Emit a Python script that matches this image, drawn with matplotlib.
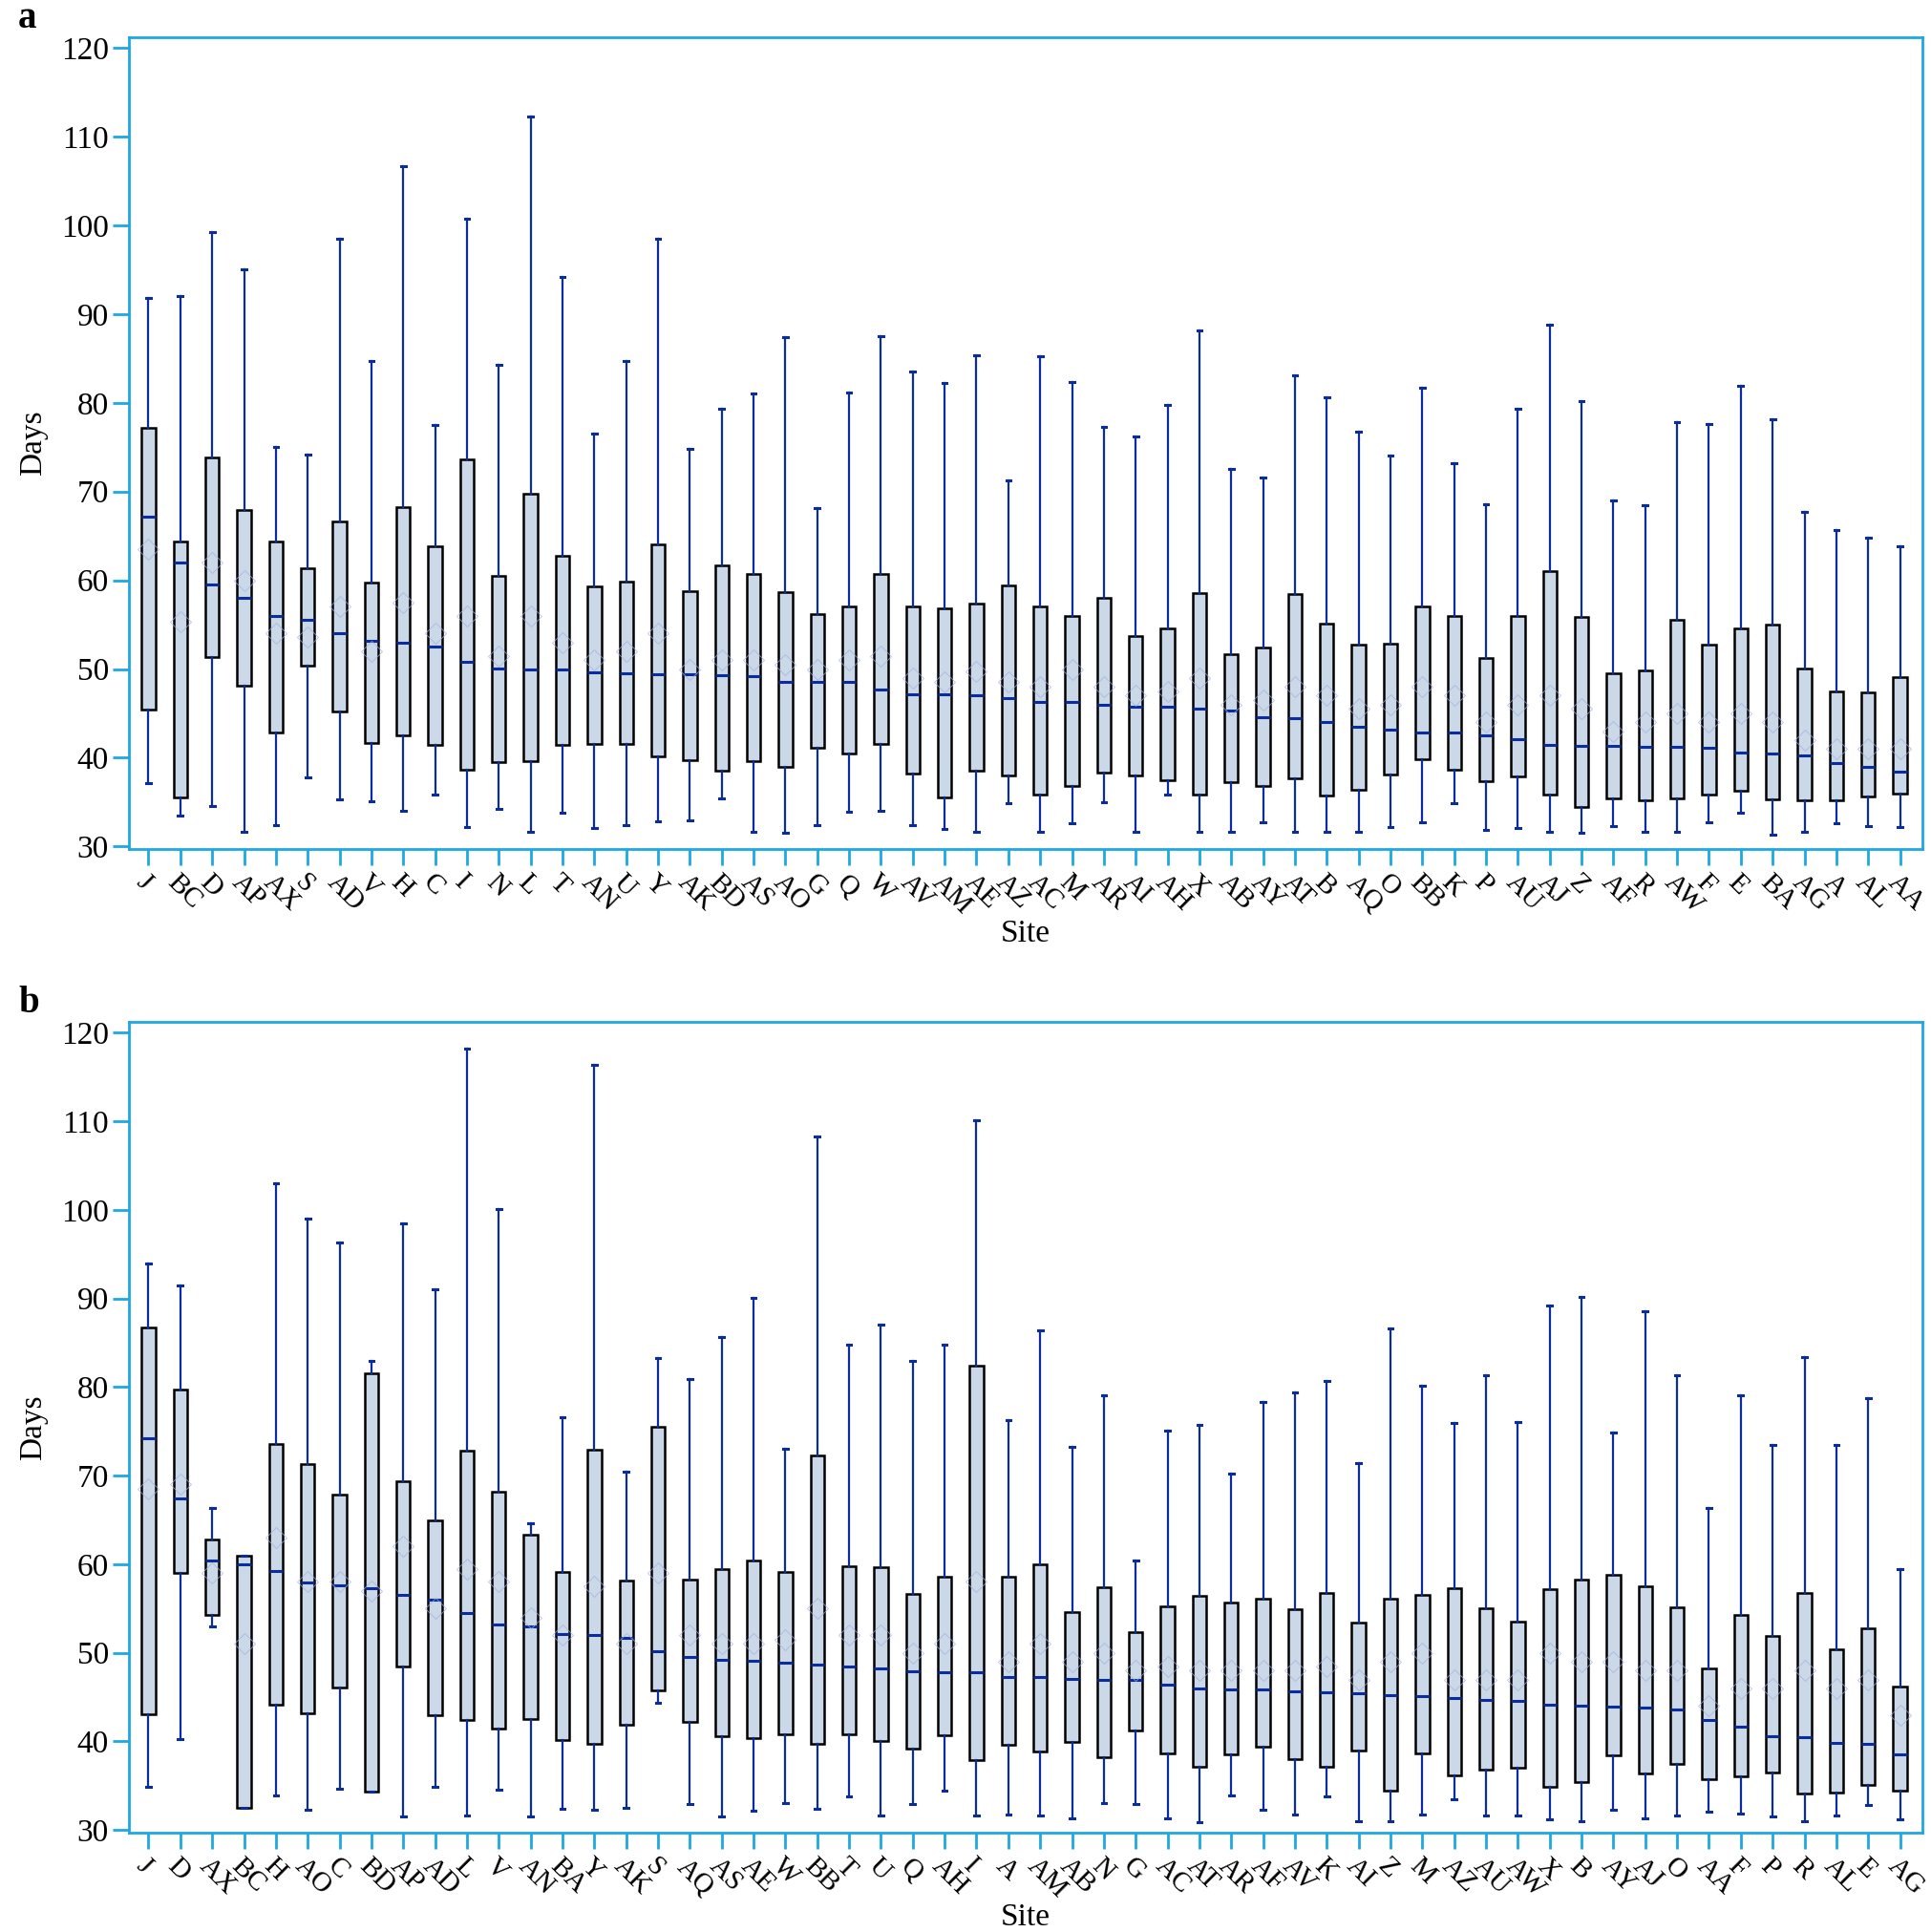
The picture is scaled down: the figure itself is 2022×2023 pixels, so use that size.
import numpy as np
import matplotlib
matplotlib.use("Agg")
import matplotlib.pyplot as plt

plt.rcParams['font.family'] = ['Liberation Serif', 'DejaVu Serif']

# Panel a data (Days)
sites_a = ['J', 'BC', 'D', 'AP', 'AX', 'S', 'AD', 'V', 'H', 'C', 'I', 'N', 'L', 'T',
           'AN', 'U', 'Y', 'AK', 'BD', 'AS', 'AO', 'G', 'Q', 'W', 'AV', 'AM', 'AE', 'AZ',
           'AC', 'M', 'AR', 'AI', 'AH', 'X', 'AB', 'AY', 'AT', 'B', 'AQ', 'O', 'BB', 'K',
           'P', 'AU', 'AJ', 'Z', 'AF', 'R', 'AW', 'F', 'E', 'BA', 'AG', 'A', 'AL', 'AA']
whislo_a = [37.1, 33.5, 34.6, 31.6, 32.4, 37.8, 35.3, 35.1, 34.0, 35.8, 32.2, 34.2, 31.6, 33.8,
            32.1, 32.4, 32.8, 32.9, 35.4, 31.6, 31.5, 32.4, 33.9, 34.0, 32.4, 32.0, 31.7, 34.9,
            31.6, 32.6, 35.0, 31.6, 35.9, 31.6, 31.6, 32.7, 31.6, 31.6, 31.6, 32.2, 32.7, 34.9,
            31.9, 32.1, 31.6, 31.5, 32.3, 31.6, 31.6, 32.7, 33.8, 31.3, 31.6, 32.6, 32.3, 32.2]
q1_a = [45.4, 35.5, 51.3, 48.1, 42.8, 50.4, 45.2, 41.7, 42.5, 41.4, 38.6, 39.5, 39.6, 41.4,
        41.6, 41.6, 40.1, 39.7, 38.5, 39.6, 39.0, 41.1, 40.5, 41.6, 38.2, 35.5, 38.5, 38.0,
        35.8, 36.8, 38.3, 38.0, 37.5, 35.9, 37.3, 36.8, 37.7, 35.7, 36.4, 38.1, 39.8, 38.6,
        37.4, 37.9, 35.8, 34.4, 35.4, 35.2, 35.4, 35.9, 36.3, 35.3, 35.2, 35.2, 35.6, 36.0]
med_a = [67.2, 62.0, 59.5, 58.0, 56.0, 55.5, 54.0, 53.2, 53.0, 52.5, 50.8, 50.1, 49.9, 49.9,
         49.6, 49.5, 49.4, 49.4, 49.3, 49.2, 48.6, 48.5, 48.5, 47.7, 47.2, 47.2, 47.0, 46.7,
         46.3, 46.3, 46.0, 45.7, 45.7, 45.5, 45.3, 44.6, 44.5, 44.0, 43.5, 43.2, 42.8, 42.8,
         42.5, 42.1, 41.4, 41.3, 41.3, 41.2, 41.2, 41.1, 40.6, 40.5, 40.3, 39.4, 39.0, 38.4]
q3_a = [77.2, 64.4, 73.8, 67.9, 64.4, 61.4, 66.6, 59.7, 68.2, 63.8, 73.6, 60.5, 69.7, 62.8,
        59.3, 59.8, 64.0, 58.8, 61.7, 60.7, 58.7, 56.2, 57.0, 60.7, 57.0, 56.8, 57.4, 59.4,
        57.0, 56.0, 58.0, 53.7, 54.6, 58.6, 51.7, 52.4, 58.4, 55.1, 52.7, 52.9, 57.0, 56.0,
        51.2, 56.0, 61.0, 55.9, 49.5, 49.8, 55.5, 52.8, 54.6, 55.0, 50.1, 47.5, 47.4, 49.1]
whishi_a = [91.8, 92.0, 99.3, 95.0, 75.0, 74.2, 98.5, 84.7, 106.7, 77.5, 100.8, 84.3, 112.3, 94.2,
            76.5, 84.7, 98.5, 74.8, 79.3, 81.1, 87.4, 68.1, 81.2, 87.5, 83.5, 82.2, 85.4, 71.3,
            85.2, 82.4, 77.3, 76.2, 79.8, 88.2, 72.5, 71.6, 83.1, 80.6, 76.7, 74.1, 81.7, 73.2,
            68.6, 79.3, 88.8, 80.2, 69.0, 68.5, 77.8, 77.6, 81.9, 78.1, 67.7, 65.7, 64.8, 63.8]
mean_a = [63.5, 55.3, 62.0, 60.0, 54.0, 53.6, 57.0, 52.0, 57.5, 54.0, 56.0, 51.5, 56.0, 53.0,
          51.0, 52.0, 54.0, 50.0, 51.0, 51.0, 50.5, 50.0, 51.0, 51.5, 49.0, 48.5, 49.7, 48.5,
          48.0, 50.0, 48.0, 47.0, 47.5, 49.0, 46.0, 46.5, 48.0, 47.0, 45.5, 46.0, 48.0, 47.0,
          44.0, 46.0, 47.0, 45.5, 43.0, 44.0, 45.0, 44.0, 45.0, 44.0, 42.0, 41.0, 41.0, 41.0]

# Panel b data (Days)
sites_b = ['J', 'D', 'AX', 'BC', 'H', 'AO', 'C', 'BD', 'AP', 'AD', 'L', 'V', 'AN', 'BA',
           'Y', 'AK', 'S', 'AQ', 'AS', 'AE', 'W', 'BB', 'T', 'U', 'Q', 'AH', 'I', 'A',
           'AM', 'AB', 'N', 'G', 'AC', 'AT', 'AR', 'AF', 'AV', 'K', 'AI', 'Z', 'M', 'AZ',
           'AU', 'AW', 'X', 'B', 'AY', 'AJ', 'O', 'AA', 'F', 'P', 'R', 'AL', 'E', 'AG']
whislo_b = [34.9, 40.3, 53.0, 32.5, 33.9, 32.3, 34.7, 34.3, 31.5, 34.9, 31.6, 34.5, 31.5, 32.4,
            32.3, 32.5, 44.4, 32.9, 31.5, 32.2, 33.0, 32.4, 33.8, 31.6, 32.9, 34.4, 31.6, 31.8,
            31.6, 31.3, 33.0, 32.9, 31.3, 30.9, 33.9, 32.3, 31.7, 33.8, 31.0, 31.0, 31.8, 33.5,
            31.6, 31.6, 31.2, 31.0, 32.3, 31.3, 31.6, 32.1, 31.9, 31.5, 31.0, 31.6, 32.8, 31.2]
q1_b = [43.1, 59.0, 54.3, 32.5, 44.1, 43.2, 46.1, 34.3, 48.5, 43.0, 42.4, 41.4, 42.5, 40.2,
        39.7, 41.9, 45.8, 42.2, 40.6, 40.4, 40.8, 39.7, 40.8, 40.1, 39.2, 40.7, 37.9, 39.6,
        38.9, 39.9, 38.2, 41.2, 38.7, 37.1, 38.5, 39.4, 38.0, 37.1, 39.0, 34.4, 38.7, 36.2,
        36.8, 37.0, 34.9, 35.4, 38.4, 36.4, 37.5, 35.7, 36.1, 36.5, 34.1, 34.2, 35.1, 34.4]
med_b = [74.2, 67.4, 60.4, 60.0, 59.2, 57.9, 57.6, 57.3, 56.5, 56.0, 54.5, 53.2, 53.0, 52.1,
         52.0, 51.7, 50.2, 49.5, 49.2, 49.1, 48.9, 48.7, 48.5, 48.2, 47.9, 47.8, 47.8, 47.3,
         47.3, 47.1, 47.0, 46.9, 46.4, 46.0, 45.9, 45.9, 45.7, 45.6, 45.4, 45.2, 45.1, 44.9,
         44.7, 44.6, 44.1, 44.0, 43.9, 43.8, 43.6, 42.4, 41.7, 40.6, 40.5, 39.8, 39.7, 38.5]
q3_b = [86.7, 79.7, 62.8, 61.0, 73.6, 71.3, 67.9, 81.6, 69.4, 64.9, 72.8, 68.2, 63.3, 59.1,
        72.9, 58.2, 75.5, 58.3, 59.5, 60.4, 59.1, 72.3, 59.8, 59.7, 56.7, 58.6, 82.4, 58.6,
        60.0, 54.6, 57.4, 52.3, 55.3, 56.4, 55.7, 56.1, 54.9, 56.8, 53.4, 56.1, 56.5, 57.3,
        55.0, 53.5, 57.2, 58.3, 58.8, 57.5, 55.1, 48.2, 54.3, 51.9, 56.8, 50.4, 52.8, 46.2]
whishi_b = [93.9, 91.5, 66.4, 61.0, 103.0, 99.0, 96.3, 83.0, 98.5, 91.0, 118.2, 100.1, 64.6, 76.6,
            116.4, 70.4, 83.3, 80.9, 85.6, 90.1, 73.0, 108.3, 84.8, 87.1, 82.9, 84.8, 110.1, 76.3,
            86.4, 73.3, 79.1, 60.4, 75.1, 75.7, 70.2, 78.3, 79.4, 80.7, 71.4, 86.6, 80.2, 75.9,
            81.3, 76.0, 89.2, 90.2, 74.9, 88.6, 81.3, 66.4, 79.1, 73.5, 83.4, 73.5, 78.8, 59.4]
mean_b = [68.5, 69.0, 59.0, 51.0, 63.0, 58.0, 58.0, 57.0, 62.0, 55.0, 59.5, 58.0, 54.0, 52.0,
          57.5, 51.0, 59.0, 52.0, 51.0, 51.0, 51.5, 55.0, 52.0, 52.0, 50.0, 51.0, 58.0, 49.0,
          51.0, 49.0, 50.0, 48.0, 48.5, 48.0, 48.0, 48.0, 48.0, 48.5, 47.0, 49.0, 50.0, 47.0,
          47.0, 47.0, 50.0, 49.0, 49.0, 48.0, 48.0, 44.0, 46.0, 46.0, 48.0, 46.0, 47.0, 43.0]

spine_col = '#1ea8e0'
dark_blue = '#0b2d9c'
box_fill = '#cbd8e8'


def make_stats(labels, lo, q1, med, q3, hi, mean):
    stats = []
    for i in range(len(labels)):
        stats.append(dict(label=labels[i], whislo=lo[i], q1=q1[i], med=med[i],
                          q3=q3[i], whishi=hi[i], mean=mean[i], fliers=[]))
    return stats


def draw_panel(ax, labels, lo, q1, med, q3, hi, mean, letter):
    stats = make_stats(labels, lo, q1, med, q3, hi, mean)
    ax.bxp(stats, positions=np.arange(len(labels)), widths=0.43, patch_artist=True,
           showmeans=True, showfliers=False, capwidths=0.14,
           boxprops=dict(facecolor=box_fill, edgecolor='black', linewidth=1.8),
           medianprops=dict(color=dark_blue, linewidth=2.2),
           whiskerprops=dict(color=dark_blue, linewidth=1.6),
           capprops=dict(color=dark_blue, linewidth=2.2),
           meanprops=dict(marker='D', markersize=11, markerfacecolor='none',
                          markeredgecolor='#9fb2e0', markeredgewidth=0.7, alpha=0.7),
           zorder=3)
    ax.set_xlim(-0.6, len(labels) - 0.3)
    ax.set_ylim(29.7, 121.2)
    ax.set_yticks(np.arange(30, 121, 10))
    ax.set_xticks(np.arange(len(labels)))
    ax.set_xticklabels(labels, rotation=-45, ha='left', va='top',
                       rotation_mode='anchor', fontsize=21)
    ax.tick_params(axis='both', colors=spine_col, length=12, width=2, direction='out',
                   labelcolor='black')
    ax.tick_params(axis='y', labelsize=24)
    ax.tick_params(axis='x', pad=4)
    for sp in ax.spines.values():
        sp.set_color(spine_col)
        sp.set_linewidth(2)
    ax.set_ylabel('Days', fontsize=24, labelpad=10)
    ax.set_xlabel('Site', fontsize=24, labelpad=0)
    ax.text(-0.062, 1.045, letter, transform=ax.transAxes, fontsize=28,
            fontweight='bold', va='top', ha='left')


fig = plt.figure(figsize=(20.22, 20.23), dpi=100)
ax_a = fig.add_axes([0.067, 0.5605, 0.9285, 0.4202])
ax_b = fig.add_axes([0.067, 0.0514, 0.9285, 0.4196])

draw_panel(ax_a, sites_a, whislo_a, q1_a, med_a, q3_a, whishi_a, mean_a, 'a')
draw_panel(ax_b, sites_b, whislo_b, q1_b, med_b, q3_b, whishi_b, mean_b, 'b')

fig.savefig('out.png', dpi=100)
